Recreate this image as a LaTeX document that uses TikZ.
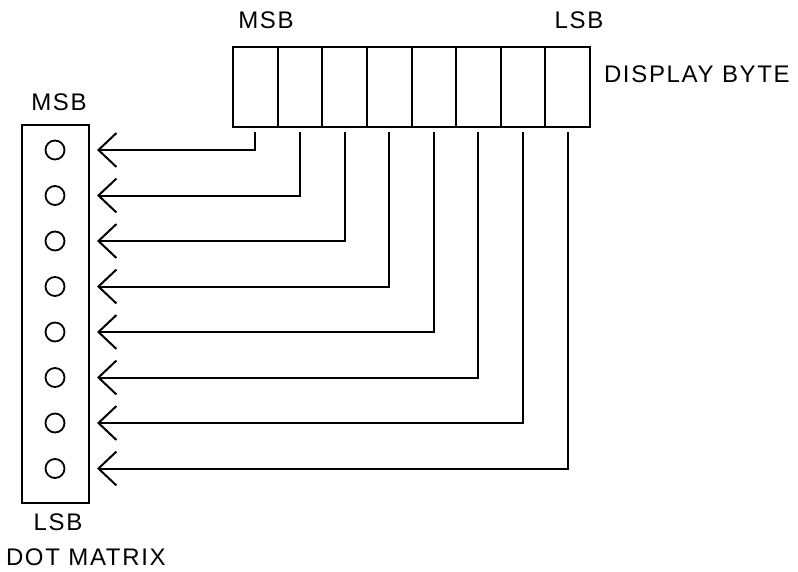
\documentclass[tikz,border=0pt]{standalone}
\usepackage{fontspec}
\setmainfont{Liberation Sans}[LetterSpace=7]
\usetikzlibrary{arrows.meta}
\begin{document}
\begin{tikzpicture}[x=1pt,y=-1pt,
  line width=2pt,
  lbl/.style={font=\fontsize{24}{28}\selectfont, inner sep=0pt},
  cell/.style={draw, minimum width=44.625pt, minimum height=80pt, inner sep=0pt, outer sep=0pt},
  dot/.style={draw, circle, minimum size=19pt, inner sep=0pt, line width=1.8pt},
  conn/.style={-{Straight Barb[length=18pt,width=34pt]}, shorten <=5pt}
]
\useasboundingbox (0,0) rectangle (798,571);
% display byte cells
\foreach \i in {1,...,8} {
  \node[cell] (c\i) at ({233+44.625*(\i-0.5)},87) {};
}
% dot matrix column
\node[draw, minimum width=67pt, minimum height=378pt, inner sep=0pt] (mat) at (55.5,314) {};
\foreach \i in {1,...,8} {
  \node[dot] (d\i) at (55,{150+45.5*(\i-1)}) {};
  \coordinate (a\i) at (97,{150+45.5*(\i-1)});
}
% connectors
\foreach \i in {1,...,8} {
  \draw[conn] (c\i.south) |- (a\i);
}
% labels
\node[lbl] (msbt) at (266,20) {MSB};
\node[lbl] (lsbt) at (579,20) {LSB};
\node[lbl, anchor=west] (db) at (603,74) {DISPLAY BYTE};
\node[lbl] (msbl) at (59,102) {MSB};
\node[lbl] (lsbl) at (58,522) {LSB};
\node[lbl, anchor=west] (dm) at (5,557) {DOT MATRIX};
\end{tikzpicture}
\end{document}
